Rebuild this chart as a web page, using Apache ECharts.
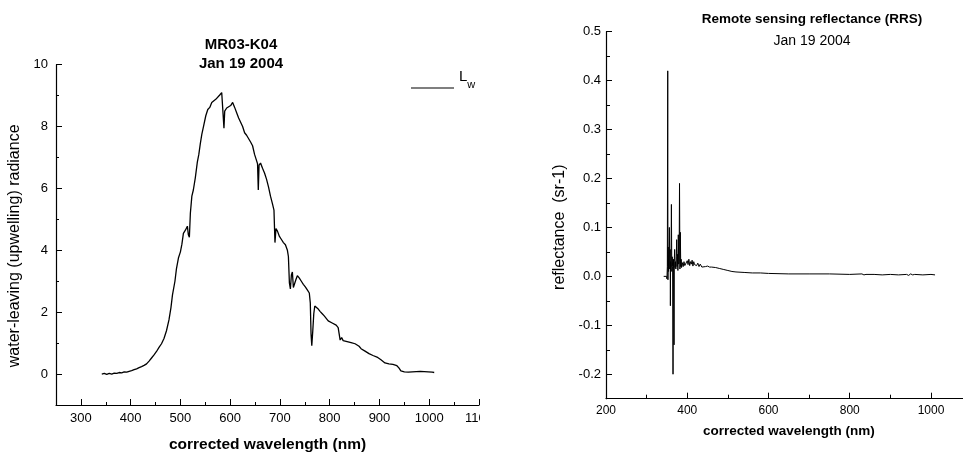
<!DOCTYPE html>
<html>
<head>
<meta charset="utf-8">
<script src="https://cdn.jsdelivr.net/npm/echarts@6/dist/echarts.min.js"></script>
<style>
html,body{margin:0;padding:0;width:963px;height:457px;overflow:hidden;background:#fff;}
#left{position:absolute;left:0;top:0;width:480px;height:457px;}
#right{position:absolute;left:480px;top:0;width:500px;height:457px;}
</style>
</head>
<body>
<div id="left"></div>
<div id="right"></div>
<script>
// ---- Data ----
const lwWavelength = [342,347,352,357,362,367,372,377,382,387,392,397,402,407,412,417,422,427,432,437,442,447,452,457,462,467,472,477,481,484,486,489,492,496,500,503,506,510,514,516,518,520,523,526,530,534,537,540,543,547,551,555,559,563,567,571,575,579,583,586,587.5,589,593,597,601,605,609,613,617,621,625,629,633,637,641,645,649,653,655,656.5,658,661,665,669,673,677,681,685,688,690,692,695,699,703,707,711,715,717,719,721,723,725,727,729,732,735,739,743,747,751,755,759,761,762.5,764,766,768,770,773,777,781,785,789,793,797,801,805,809,813,817,819,821,824,827,831,835,839,843,847,851,855,859,863,867,871,875,879,883,887,891,895,899,903,907,911,915,919,923,927,931,935,939,943,946,950,954,958,962,966,970,974,978,982,986,990,994,998,1002,1006,1010];
const lwRadiance = [0.00,0.02,-0.01,0.02,0.00,0.03,0.02,0.05,0.04,0.07,0.06,0.09,0.11,0.14,0.17,0.21,0.24,0.28,0.33,0.42,0.52,0.62,0.73,0.86,0.98,1.15,1.40,1.75,2.15,2.55,2.50,3.00,3.40,3.75,3.95,4.20,4.55,4.65,4.78,4.50,4.42,5.20,5.75,5.95,6.35,6.85,7.10,7.45,7.75,8.05,8.35,8.55,8.62,8.78,8.80,8.88,8.85,9.02,9.10,9.15,7.95,8.50,8.60,8.55,8.68,8.78,8.62,8.45,8.28,8.25,8.00,7.80,7.72,7.68,7.50,7.38,7.10,6.90,6.80,5.95,6.75,6.82,6.65,6.50,6.30,6.05,5.75,5.50,5.30,4.25,4.70,4.62,4.45,4.35,4.25,4.18,4.00,3.80,2.95,2.75,3.20,3.30,2.80,2.85,3.05,3.18,3.10,3.00,2.90,2.82,2.72,2.62,2.30,1.30,0.92,1.40,1.95,2.20,2.25,2.10,2.02,1.95,1.88,1.82,1.72,1.66,1.65,1.62,1.58,1.50,1.30,1.10,1.18,1.08,1.12,1.05,1.08,1.02,1.06,0.98,0.92,0.90,0.82,0.78,0.74,0.70,0.66,0.62,0.60,0.58,0.55,0.52,0.46,0.40,0.36,0.40,0.33,0.30,0.31,0.28,0.27,0.20,0.10,0.05,0.07,0.04,0.06,0.05,0.07,0.06,0.08,0.07,0.09,0.10,0.08,0.09,0.07,0.08,0.06,0.05];

const rrsWavelength = [342,346,349,350,351,352,352.5,353,354,355,356,357,358,358.5,359,360,361,362,363,364,365,366,367,367.5,368,369,370,371,372,373,374,375,376,377,378,379,380,381,382,383,384,385,386,388,390,392,394,396,398,400,402,404,406,408,410,412,414,416,418,420,423,426,429,432,436,440,445,450,455,460,470,480,490,500,510,520,540,560,580,600,650,700,750,800,830,835,840,860,880,900,920,940,945,950,955,960,980,1000,1010];
const rrsReflectance = [0.000,0.000,0.000,-0.005,0.020,0.420,-0.007,0.060,0.010,0.045,0.100,0.015,0.055,-0.060,0.030,0.020,0.147,0.010,0.040,0.020,-0.200,0.035,0.015,-0.140,0.030,0.055,0.018,0.030,0.015,0.040,0.075,0.020,0.045,0.012,0.085,0.025,0.030,0.190,0.015,0.090,0.020,0.035,0.018,0.028,0.020,0.030,0.022,0.026,0.020,0.032,0.024,0.035,0.022,0.030,0.025,0.033,0.021,0.030,0.024,0.028,0.022,0.027,0.020,0.025,0.019,0.023,0.020,0.021,0.019,0.019,0.018,0.016,0.014,0.012,0.010,0.009,0.008,0.007,0.007,0.006,0.005,0.005,0.005,0.004,0.005,0.003,0.004,0.004,0.003,0.004,0.003,0.004,0.002,0.005,0.003,0.004,0.003,0.004,0.003];

const leftXTicks = [300,400,500,600,700,800,900,1000,1100];
const leftYTicks = [0,2,4,6,8,10];
const rightXTicks = [200,400,600,800,1000];
const rightYTicks = [-0.2,-0.1,0,0.1,0.2,0.3,0.4,0.5];

const FONT = 'Liberation Sans, Arial, sans-serif';

function zip(a,b){return a.map((v,i)=>[v,b[i]]);}
const plain = v => String(v);

// ---- Left chart ----
const left = echarts.init(document.getElementById('left'), null, {renderer:'canvas'});
left.setOption({
  animation:false,
  backgroundColor:'#fff',
  title:{
    text:'MR03-K04\nJan 19 2004',
    left:236, top:30, textAlign:'center',
    textStyle:{fontFamily:FONT,fontSize:15,fontWeight:'bold',color:'#000',lineHeight:19}
  },
  legend:{
    data:['Lw'], left:406, top:64.5,
    icon:'rect', itemWidth:43, itemHeight:1,
    formatter:()=>'{l|L}{s|w}',
    textStyle:{padding:[0,0,16,0],rich:{
      l:{fontFamily:FONT,fontSize:15,lineHeight:21,verticalAlign:'top',color:'#000'},
      s:{fontFamily:FONT,fontSize:11,verticalAlign:'bottom',color:'#000'}
    }}
  },
  grid:{left:56,top:64.7,right:1,bottom:52,containLabel:false,outerBoundsMode:'none'},
  xAxis:[{
    type:'value',min:250,max:1100,
    name:'corrected wavelength (nm)',nameLocation:'middle',nameGap:32,
    nameTextStyle:{fontFamily:FONT,fontSize:15.5,fontWeight:'bold',color:'#000'},
    axisLine:{onZero:false,lineStyle:{color:'#000',width:1.2}},
    axisTick:{inside:true,length:6,customValues:leftXTicks,lineStyle:{color:'#000'}},
    axisLabel:{customValues:leftXTicks,margin:7,fontFamily:FONT,fontSize:13,color:'#000',formatter:plain,showMaxLabel:true},
    splitLine:{show:false}
  },{
    type:'value',min:250,max:1100,interval:50,position:'bottom',
    axisLine:{show:false,onZero:false},
    axisTick:{inside:true,length:3,lineStyle:{color:'#000'}},
    axisLabel:{show:false},splitLine:{show:false}
  }],
  yAxis:[{
    type:'value',min:-1,max:10,
    name:'water-leaving (upwelling) radiance',nameLocation:'middle',nameGap:31,
    nameTextStyle:{fontFamily:FONT,fontSize:16,color:'#000',padding:[0,22,0,0]},
    axisLine:{onZero:false,lineStyle:{color:'#000',width:1.2}},
    axisTick:{inside:true,length:6,customValues:leftYTicks,lineStyle:{color:'#000'}},
    axisLabel:{customValues:leftYTicks,margin:8,fontFamily:FONT,fontSize:13,color:'#000',formatter:plain},
    splitLine:{show:false}
  },{
    type:'value',min:-1,max:10,interval:1,position:'left',
    axisLine:{show:false,onZero:false},
    axisTick:{inside:true,length:3,lineStyle:{color:'#000'}},
    axisLabel:{show:false},splitLine:{show:false}
  }],
  series:[{
    name:'Lw',type:'line',xAxisIndex:0,yAxisIndex:0,
    data:zip(lwWavelength,lwRadiance),
    showSymbol:false,symbol:'none',
    lineStyle:{color:'#000',width:1.3},itemStyle:{color:'#000'}
  }]
});

// ---- Right chart ----
const right = echarts.init(document.getElementById('right'), null, {renderer:'canvas'});
right.setOption({
  animation:false,
  backgroundColor:'#fff',
  title:{
    text:'Remote sensing reflectance (RRS)',
    subtext:'Jan 19 2004',
    left:327, top:6, textAlign:'center', itemGap:6,
    textStyle:{fontFamily:FONT,fontSize:13.5,fontWeight:'bold',color:'#000',lineHeight:16},
    subtextStyle:{fontFamily:FONT,fontSize:14,color:'#000',lineHeight:16}
  },
  grid:{left:126,top:31.7,right:8.4,bottom:58.3,containLabel:false,outerBoundsMode:'none'},
  xAxis:[{
    type:'value',min:200,max:1100,
    name:'corrected wavelength (nm)',nameLocation:'middle',nameGap:26,
    nameTextStyle:{fontFamily:FONT,fontSize:13.5,fontWeight:'bold',color:'#000'},
    axisLine:{onZero:false,lineStyle:{color:'#000',width:1.2}},
    axisTick:{inside:true,length:6,customValues:rightXTicks,lineStyle:{color:'#000'}},
    axisLabel:{customValues:rightXTicks,margin:6,fontFamily:FONT,fontSize:12,color:'#000',formatter:plain},
    splitLine:{show:false}
  },{
    type:'value',min:200,max:1100,interval:100,position:'bottom',
    axisLine:{show:false,onZero:false},
    axisTick:{inside:true,length:4,lineStyle:{color:'#000'}},
    axisLabel:{show:false},splitLine:{show:false}
  }],
  yAxis:[{
    type:'value',min:-0.25,max:0.5,
    name:'reflectance  (sr-1)',nameLocation:'middle',nameGap:36,
    nameTextStyle:{fontFamily:FONT,fontSize:16,color:'#000',padding:[0,24,0,0]},
    axisLine:{onZero:false,lineStyle:{color:'#000',width:1.2}},
    axisTick:{inside:true,length:6,customValues:rightYTicks,lineStyle:{color:'#000'}},
    axisLabel:{customValues:rightYTicks,margin:5,fontFamily:FONT,fontSize:13,color:'#000',
      formatter:v=>v.toFixed(1)},
    splitLine:{show:false}
  },{
    type:'value',min:-0.25,max:0.5,interval:0.05,position:'left',
    axisLine:{show:false,onZero:false},
    axisTick:{inside:true,length:4,lineStyle:{color:'#000'}},
    axisLabel:{show:false},splitLine:{show:false}
  }],
  series:[{
    name:'RRS',type:'line',xAxisIndex:0,yAxisIndex:0,
    data:zip(rrsWavelength,rrsReflectance),
    showSymbol:false,symbol:'none',
    lineStyle:{color:'#000',width:1},itemStyle:{color:'#000'}
  }]
});
</script>
</body>
</html>
